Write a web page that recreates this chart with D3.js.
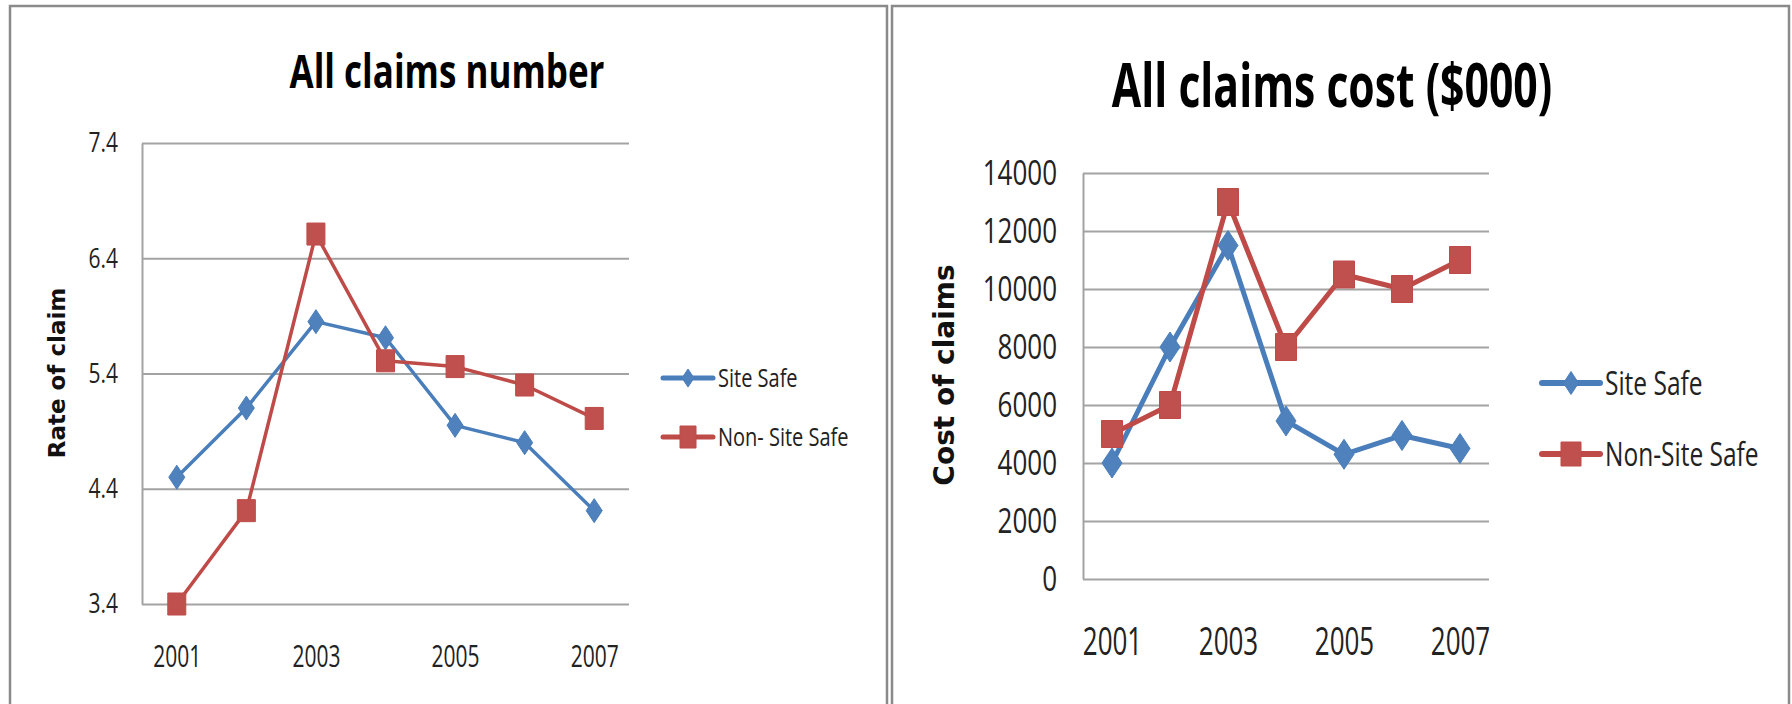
<!DOCTYPE html>
<html>
<head>
<meta charset="utf-8">
<script src="https://cdn.jsdelivr.net/npm/d3@7"></script>
<style>
  body { margin: 0; background: #fff; }
  svg { display: block; }
</style>
</head>
<body>
<script>
// data
var years = ["2001", "2002", "2003", "2004", "2005", "2006", "2007"];
var yearLabels = ["2001", "2003", "2005", "2007"];
var seriesNames = ["Site Safe", "Non-Site Safe"];
var legendNamesLeft = ["Site Safe", "Non- Site Safe"];

var rateSiteSafe = [4.5, 5.1, 5.85, 5.71, 4.95, 4.8, 4.21];
var rateNonSiteSafe = [3.4, 4.21, 6.61, 5.51, 5.46, 5.3, 5.01];
var rateTicks = [3.4, 4.4, 5.4, 6.4, 7.4];

var costSiteSafe = [4000, 8000, 11500, 5450, 4300, 4950, 4500];
var costNonSiteSafe = [5000, 6000, 13000, 8000, 10500, 10000, 11000];
var costTicks = [0, 2000, 4000, 6000, 8000, 10000, 12000, 14000];

var width = 1792, height = 704;
var blue = "#4a7ebb", blueFill = "#4f81bd";
var red = "#be4b48", redFill = "#c0504d";
var gridColor = "#a3a3a3";
var FONT = "'Open Sans', 'Noto Sans', sans-serif";

var svg = d3.select("body").append("svg").attr("width", width).attr("height", height);

// text stretched vertically like the screenshot
function addText(g, x, y, txt, size, sy, anchor, weight) {
    return g.append("text").text(txt)
        .attr("transform", "translate(" + x + "," + y + ") scale(1," + sy + ")")
        .attr("font-family", FONT).attr("font-size", size)
        .attr("font-weight", weight || "normal")
        .attr("text-anchor", anchor || "start")
        .attr("fill", "#222");
}//EndFunction.

function diamondPath(w, h) {
    return "M0," + (-h) + "L" + w + ",0L0," + h + "L" + (-w) + ",0Z";
}//EndFunction.

function squarePath(w, h) {
    return "M" + (-w) + "," + (-h) + "H" + w + "V" + h + "H" + (-w) + "Z";
}//EndFunction.

function drawChart(o) {
    var g = svg.append("g");

    // panel frame
    g.append("rect").attr("x", o.frame[0]).attr("y", 6).attr("width", o.frame[1]).attr("height", 740)
        .attr("fill", "none").attr("stroke", "#8a8a8a").attr("stroke-width", 2.5);

    var x = d3.scalePoint().domain(years).range([o.left, o.right]).padding(0.5);
    var y = d3.scaleLinear().domain(o.domain).range([o.bottom, o.top]);

    // gridlines + vertical axis line
    g.append("g").attr("transform", "translate(" + o.left + ",0)")
        .call(d3.axisLeft(y).tickValues(o.ticks).tickSize(-(o.right - o.left)).tickSizeOuter(0).tickFormat(""))
        .call(function(a) {
            a.selectAll("line").attr("stroke", gridColor).attr("stroke-width", 2);
            a.select(".domain").attr("stroke", gridColor).attr("stroke-width", 2);
        });

    // y tick labels
    g.append("g").attr("transform", "translate(" + o.left + ",0)")
        .call(d3.axisLeft(y).tickValues(o.ticks).tickSize(0).tickPadding(o.tickPad).tickFormat(o.fmt))
        .call(function(a) {
            a.select(".domain").remove();
            a.selectAll("text").attr("font-family", FONT).attr("font-size", o.tickSize)
                .attr("fill", "#222").attr("transform", "scale(1," + o.tickSY + ")");
        });

    // x labels
    g.append("g").attr("transform", "translate(0," + o.bottom + ")")
        .call(d3.axisBottom(x).tickValues(yearLabels).tickSize(0))
        .call(function(a) {
            a.select(".domain").remove();
            a.selectAll("text").attr("y", 0).attr("dy", 0)
                .attr("font-family", FONT).attr("font-size", o.tickSize).attr("fill", "#222")
                .attr("transform", "translate(0," + o.xLabelBase + ") scale(1," + o.xSY + ")");
        });

    // axis title (rotated)
    g.append("text").text(o.yTitle)
        .attr("transform", "translate(" + o.yTitlePos[0] + "," + o.yTitlePos[1] + ") rotate(-90)")
        .attr("text-anchor", "middle").attr("dominant-baseline", "central")
        .attr("font-family", "'DejaVu Sans', Verdana, sans-serif").attr("font-weight", "bold")
        .attr("font-size", o.yTitleSize).attr("fill", "#111");

    // chart title
    addText(g, o.titlePos[0], o.titlePos[1], o.title, o.titleSize, o.titleSY, "middle", "bold").attr("fill", "#000");

    var series = [
        { values: o.s1, color: blue, fill: blueFill, shape: diamondPath(o.dia[0], o.dia[1]) },
        { values: o.s2, color: red, fill: redFill, shape: squarePath(o.sq[0], o.sq[1]) }
    ];

    var line = d3.line().x(function(d, i) { return x(years[i]); }).y(function(d) { return y(d); });

    series.forEach(function(s) {
        g.append("path").datum(s.values).attr("d", line)
            .attr("fill", "none").attr("stroke", s.color).attr("stroke-width", o.lineW)
            .attr("stroke-linejoin", "round");
        g.selectAll(null).data(s.values).enter().append("path")
            .attr("d", s.shape)
            .attr("transform", function(d, i) { return "translate(" + x(years[i]) + "," + y(d) + ")"; })
            .attr("fill", s.fill).attr("stroke", s.color).attr("stroke-width", 1);
    });

    // legend
    series.forEach(function(s, i) {
        var ly = o.legend.y[i];
        g.append("line").attr("x1", o.legend.x0).attr("x2", o.legend.x1).attr("y1", ly).attr("y2", ly)
            .attr("stroke", s.color).attr("stroke-width", o.legend.lineW).attr("stroke-linecap", "round");
        g.append("path").attr("d", i == 0 ? diamondPath(o.legend.dia[0], o.legend.dia[1]) : squarePath(o.legend.sq[0], o.legend.sq[1]))
            .attr("transform", "translate(" + ((o.legend.x0 + o.legend.x1) / 2) + "," + ly + ")")
            .attr("fill", s.fill).attr("stroke", s.color);
        addText(g, o.legend.tx, ly + o.legend.baseOff, o.legend.names[i], o.legend.size, o.legend.sy);
    });
}//EndFunction.

drawChart({
    frame: [10, 877],
    left: 142, right: 629, top: 143, bottom: 604,
    domain: [3.4, 7.4], ticks: rateTicks, fmt: d3.format(".1f"),
    tickSize: 21, tickSY: 1.33, tickPad: 24, xSY: 1.45, xLabelBase: 63,
    s1: rateSiteSafe, s2: rateNonSiteSafe,
    yTitle: "Rate of claim", yTitlePos: [57, 373], yTitleSize: 23,
    title: "All claims number", titlePos: [447, 88], titleSize: 35, titleSY: 1.33,
    lineW: 3.5, dia: [8, 12], sq: [9, 11],
    legend: { x0: 663, x1: 713, y: [378, 437], tx: 718, baseOff: 9, size: 20, sy: 1.28,
              lineW: 5, dia: [6, 9], sq: [8, 11], names: legendNamesLeft }
});

drawChart({
    frame: [892, 897],
    left: 1083, right: 1489, top: 173, bottom: 579,
    domain: [0, 14000], ticks: costTicks, fmt: d3.format("d"),
    tickSize: 26, tickSY: 1.35, tickPad: 26, xSY: 1.45, xLabelBase: 76,
    s1: costSiteSafe, s2: costNonSiteSafe,
    yTitle: "Cost of claims", yTitlePos: [944, 375], yTitleSize: 28,
    title: "All claims cost ($000)", titlePos: [1332, 107], titleSize: 42.7, titleSY: 1.44,
    lineW: 5, dia: [10, 15], sq: [10.5, 13.5],
    legend: { x0: 1542, x1: 1600, y: [383, 454], tx: 1605, baseOff: 11.5, size: 24.5, sy: 1.31,
              lineW: 6, dia: [7.5, 11.5], sq: [10, 12], names: seriesNames }
});
</script>
</body>
</html>
